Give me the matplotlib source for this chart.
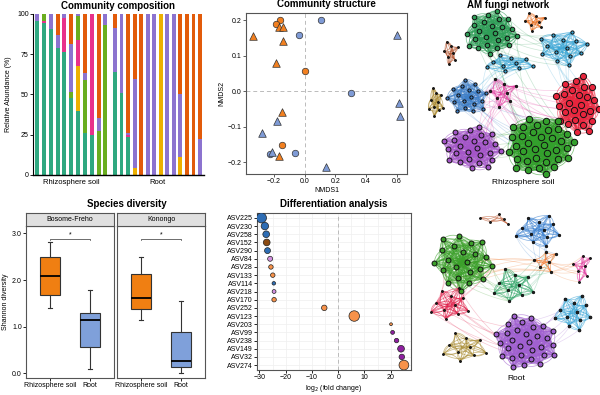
import numpy as np
import matplotlib
matplotlib.use("Agg")
import matplotlib.pyplot as plt
from matplotlib.collections import LineCollection

plt.rcParams['font.family'] = ['Liberation Sans', 'DejaVu Sans']
plt.rcParams['axes.unicode_minus'] = True

W, H = 600, 395

# ---------------- data ----------------
# community composition, stacked bottom -> top
taxa = ['t1', 't2', 't3', 't4', 't5', 't6']
taxa_colors = ['#2FA880', '#EDB000', '#E8318A', '#6AAE1F', '#8C73CF', '#E25B0A']
rhizo_comp = {
    't1': [95.4, 94.4, 90.9, 78.9, 76.4, 47.6, 40.0, 26.1, 24.6, 0, 0],
    't2': [0, 0, 0, 0, 0, 0, 27.5, 0, 0, 0, 0],
    't3': [0, 1.4, 0, 0, 21.1, 0, 16.5, 0, 75.4, 0, 0],
    't4': [0, 4.2, 0, 0, 0, 3.7, 14.5, 33.1, 0, 27.1, 93.0],
    't5': [4.6, 0, 9.1, 8.3, 2.5, 30.1, 1.5, 4.2, 0, 8.3, 7.0],
    't6': [0, 0, 0, 12.8, 0, 18.6, 0, 36.6, 0, 64.6, 0],
}
root_comp = {
    't1': [63.8, 50.9, 23.6, 0, 0, 0, 0, 0, 0, 0, 0, 0, 0, 0],
    't2': [0, 0, 0, 4.3, 0, 0, 0, 100, 0, 0, 11.4, 0, 0, 0],
    't3': [0, 0, 1.5, 0, 0, 0, 0, 0, 0, 0, 0, 0, 0, 0],
    't4': [0, 0, 0, 0, 0, 0, 0, 0, 0, 0, 0, 0, 0, 0],
    't5': [27.5, 49.1, 1.0, 55.5, 0, 100, 100, 0, 100, 100, 39.1, 0, 0, 22.4],
    't6': [8.7, 0, 73.9, 40.2, 100, 0, 0, 0, 0, 0, 49.5, 100, 100, 77.6],
}

# NMDS
rh_circ_x = [-0.161, -0.187, 0.0, -0.148]
rh_circ_y = [0.200, 0.188, 0.057, -0.150]
rh_tri_x = [-0.339, -0.143, -0.187, -0.150, -0.167, -0.170, -0.140]
rh_tri_y = [0.154, 0.140, 0.078, -0.058, -0.181, 0.180, 0.182]
rt_circ_x = [0.104, -0.035, 0.304, -0.063, -0.226]
rt_circ_y = [0.200, 0.158, -0.006, -0.174, -0.178]
rt_tri_x = [0.600, 0.617, 0.622, -0.183, -0.276, -0.215, 0.139]
rt_tri_y = [0.158, -0.032, -0.070, -0.084, -0.118, -0.172, -0.212]

# Shannon diversity boxplot stats (whislo, q1, med, q3, whishi)
sites = ['Bosome-Freho', 'Konongo']
compartments = ['Rhizosphere soil', 'Root']
shannon = {
    'Bosome-Freho': [[1.41, 1.69, 2.08, 2.49, 2.81], [0.09, 0.56, 1.14, 1.30, 1.79]],
    'Konongo': [[1.14, 1.38, 1.61, 2.12, 2.49], [0.01, 0.14, 0.26, 0.89, 1.56]],
}

# differential abundance
asv = ['ASV225', 'ASV230', 'ASV258', 'ASV152', 'ASV290', 'ASV84', 'ASV28', 'ASV133',
       'ASV114', 'ASV218', 'ASV170', 'ASV252', 'ASV123', 'ASV203', 'ASV99', 'ASV238',
       'ASV149', 'ASV32', 'ASV274']
lfc = [-29.2, -27.9, -27.4, -27.2, -26.9, -25.9, -25.6, -24.9, -24.5, -24.4, -24.4,
       -5.3, 6.1, 20.1, 20.7, 22.2, 23.9, 24.2, 25.0]
abund = [20, 11, 9, 9, 7, 5, 4, 4, 2.5, 3, 4, 6, 22, 1.6, 3, 4, 9, 6, 19]
asv_group = ['g1', 'g1', 'g1', 'g2', 'g1', 'g3', 'g4', 'g4', 'g1', 'g3', 'g4', 'g4', 'g4',
             'g4', 'g5', 'g5', 'g5', 'g5', 'g4']
group_colors = {'g1': '#2E6DB4', 'g2': '#8B4A12', 'g3': '#D291E0', 'g4': '#F7924A',
                'g5': '#8E1FA0'}

# network modules: colour, centre (px), radii (px), node count, node size
net_rhizo = [
    ('#2E9E57', (491, 33), (28, 23), 24, 6),
    ('#E86A1A', (535, 22), (14, 10), 8, 1),
    ('#B0502A', (451, 53), (10, 13), 8, 1),
    ('#3AA6D6', (562, 48), (26, 20), 14, 3),
    ('#3AA6D6', (510, 63), (26, 10), 10, 3),
    ('#A8862A', (436, 102), (8, 18), 10, 1),
    ('#3E7FC8', (468, 97), (21, 19), 18, 3),
    ('#E0309A', (503, 93), (18, 16), 8, 1.5),
    ('#E8243C', (578, 105), (23, 31), 26, 11),
    ('#33A02C', (540, 145), (35, 31), 36, 12),
    ('#A455C8', (473, 148), (31, 23), 26, 7),
]
links_rhizo = [(0, 3), (0, 4), (4, 6), (6, 9), (7, 9), (8, 9), (9, 10), (7, 6), (3, 8),
               (0, 9), (7, 10), (7, 8)]
net_root = [
    ('#C0603A', (498, 219), (19, 7), 5, 1),
    ('#3A80D0', (538, 230), (27, 17), 12, 1.5),
    ('#3BA02A', (462, 262), (31, 31), 22, 7),
    ('#26A060', (514, 285), (22, 21), 10, 1.5),
    ('#F07020', (545, 262), (13, 16), 6, 1.5),
    ('#E0309A', (582, 266), (11, 17), 7, 1),
    ('#E0204A', (450, 305), (22, 19), 11, 1),
    ('#40A8D8', (573, 312), (22, 19), 12, 2),
    ('#A88A30', (465, 347), (24, 18), 10, 1),
    ('#A060D0', (525, 342), (33, 28), 30, 7),
]
links_root = [(2, 3), (3, 4), (4, 5), (6, 2), (6, 9), (1, 4), (9, 7), (4, 2)]


def rect(x0, y0, x1, y1):
    return [x0 / W, 1 - y1 / H, (x1 - x0) / W, (y1 - y0) / H]


fig = plt.figure(figsize=(6, 3.95), dpi=100)
fs = 5

# ---------------- community composition ----------------
ax_a = fig.add_axes(rect(33, 14, 109.5, 175))
ax_b = fig.add_axes(rect(111, 14, 204, 175))
for ax, comp, lab in [(ax_a, rhizo_comp, 'Rhizosphere soil'), (ax_b, root_comp, 'Root')]:
    n = len(comp['t1'])
    x = np.arange(n)
    bottom = np.zeros(n)
    for t, c in zip(taxa, taxa_colors):
        v = np.array(comp[t])
        ax.bar(x, v, bottom=bottom, color=c, width=0.6, linewidth=0)
        bottom += v
    ax.set_xlim(-0.6, n - 0.4)
    ax.set_ylim(0, 100)
    ax.set_xticks([])
    ax.set_xlabel(lab, fontsize=fs + 0.5, labelpad=3)
    for s in ['top', 'right']:
        ax.spines[s].set_visible(False)
    ax.spines['bottom'].set_linewidth(1)
ax_a.set_yticks([0, 25, 50, 75, 100])
ax_a.tick_params(axis='y', labelsize=fs, length=2, width=0.6, pad=1)
ax_a.set_ylabel('Relative Abundance (%)', fontsize=fs, labelpad=4)
ax_b.spines['left'].set_visible(False)
ax_b.set_yticks([])
fig.text(118 / W, 1 - 6 / H, 'Community composition', ha='center', va='center',
         fontsize=7, fontweight='bold')

# ---------------- NMDS ----------------
ax_n = fig.add_axes(rect(246, 13, 407, 174))
ax_n.axhline(0, color='#BBBBBB', ls=(0, (4, 3)), lw=0.7, zorder=0)
ax_n.axvline(0, color='#BBBBBB', ls=(0, (4, 3)), lw=0.7, zorder=0)
kw = dict(edgecolor='#333333', linewidths=0.5, zorder=3)
ax_n.scatter(rh_circ_x, rh_circ_y, s=22, marker='o', color='#F28020', **kw)
ax_n.scatter(rh_tri_x, rh_tri_y, s=30, marker='^', color='#F28020', **kw)
ax_n.scatter(rt_circ_x, rt_circ_y, s=22, marker='o', color='#7F9BD6', **kw)
ax_n.scatter(rt_tri_x, rt_tri_y, s=30, marker='^', color='#7F9BD6', **kw)
ax_n.set_xlim(-0.383, 0.667)
ax_n.set_ylim(-0.233, 0.22)
ax_n.set_xticks([-0.2, 0.0, 0.2, 0.4, 0.6])
ax_n.set_yticks([-0.2, -0.1, 0.0, 0.1, 0.2])
ax_n.tick_params(labelsize=fs, length=2, width=0.6, pad=1, color='#444444')
for s in ax_n.spines.values():
    s.set_color('#555555')
    s.set_linewidth(0.8)
ax_n.set_xlabel('NMDS1', fontsize=fs, labelpad=1)
ax_n.set_ylabel('NMDS2', fontsize=fs, labelpad=2)
ax_n.set_title('Community structure', fontsize=7, fontweight='bold', pad=4)

# ---------------- Shannon boxplots ----------------
box_cols = ['#F07F12', '#7FA0DA']
facets = [(26, 114), (117, 205)]
for k, (site, (x0, x1)) in enumerate(zip(sites, facets)):
    ax = fig.add_axes(rect(x0, 226, x1, 378))
    st = fig.add_axes(rect(x0, 213, x1, 226))
    st.set_facecolor('#E0E0E0')
    st.set_xticks([])
    st.set_yticks([])
    for s in st.spines.values():
        s.set_color('#555555')
        s.set_linewidth(0.8)
    st.text(0.5, 0.5, site, ha='center', va='center', fontsize=fs, transform=st.transAxes)
    stats = []
    for j, comp in enumerate(compartments):
        lo, q1, med, q3, hi = shannon[site][j]
        stats.append(dict(whislo=lo, q1=q1, med=med, q3=q3, whishi=hi, fliers=[], label=comp))
    bp = ax.bxp(stats, positions=[1, 2], widths=0.5, patch_artist=True, showfliers=False,
                capwidths=0.1,
                boxprops=dict(edgecolor='#333333', linewidth=0.8),
                whiskerprops=dict(color='#333333', linewidth=0.8),
                capprops=dict(color='#333333', linewidth=0.8),
                medianprops=dict(color='black', linewidth=1.3))
    for patch, c in zip(bp['boxes'], box_cols):
        patch.set_facecolor(c)
    ax.plot([1, 1, 2, 2], [2.86, 2.89, 2.89, 2.86], color='#333333', lw=0.5)
    ax.text(1.5, 2.9, '*', ha='center', va='bottom', fontsize=5)
    ax.set_xlim(0.4, 2.6)
    ax.set_ylim(-0.1, 3.16)
    ax.tick_params(labelsize=fs, length=2, width=0.6, pad=1)
    for s in ax.spines.values():
        s.set_color('#555555')
        s.set_linewidth(0.8)
    if k == 0:
        ax.set_yticks([0, 1, 2, 3])
        ax.set_yticklabels(['0.0', '1.0', '2.0', '3.0'])
        ax.set_ylabel('Shannon diversity', fontsize=fs, labelpad=2)
    else:
        ax.set_yticks([])
fig.text(127 / W, 1 - 204 / H, 'Species diversity', ha='center', va='center',
         fontsize=7, fontweight='bold')

# ---------------- differential abundance ----------------
ax_d = fig.add_axes(rect(257, 213, 411, 370))
yy = np.arange(len(asv))
ax_d.axvline(0, color='#BBBBBB', ls=(0, (4, 3)), lw=0.7, zorder=1)
ax_d.scatter(lfc, yy, s=np.array(abund) * 2.6,
             c=[group_colors[g] for g in asv_group], edgecolor='#222222',
             linewidths=0.5, zorder=3)
ax_d.set_yticks(yy)
ax_d.set_yticklabels(asv)
ax_d.set_ylim(len(asv) - 0.4, -0.6)
ax_d.set_xlim(-30.9, 27.7)
ax_d.set_xticks([-30, -20, -10, 0, 10, 20])
ax_d.set_xticks([-25, -15, -5, 5, 15, 25], minor=True)
ax_d.grid(True, which='both', color='#EFEFEF', lw=0.5, zorder=0)
ax_d.set_axisbelow(True)
ax_d.tick_params(labelsize=fs, length=2, width=0.6, pad=1)
ax_d.tick_params(which='minor', length=0)
for s in ax_d.spines.values():
    s.set_color('#555555')
    s.set_linewidth(0.8)
ax_d.set_xlabel('log$_2$ (fold change)', fontsize=fs, labelpad=1)
ax_d.set_title('Differentiation analysis', fontsize=7, fontweight='bold', pad=4)

# ---------------- networks ----------------
ax_w = fig.add_axes(rect(415, 0, 600, 395))
ax_w.set_xlim(415, 600)
ax_w.set_ylim(395, 0)
ax_w.axis('off')
golden = np.pi * (3 - np.sqrt(5))


def module_nodes(centre, radii, n):
    i = np.arange(n)
    r = np.sqrt((i + 0.5) / n)
    th = i * golden
    return np.column_stack([centre[0] + radii[0] * r * np.cos(th),
                            centre[1] + radii[1] * r * np.sin(th)])


def arc(p, q, bend):
    t = np.linspace(0, 1, 12)[:, None]
    mid = (p + q) / 2
    d = q - p
    ctrl = mid + bend * np.array([-d[1], d[0]])
    return (1 - t) ** 2 * p + 2 * (1 - t) * t * ctrl + t ** 2 * q


def draw_network(mods, links):
    nodes = [module_nodes(c, r, n) for _, c, r, n, _ in mods]
    for a, b in links:
        segs = []
        pa, pb = nodes[a], nodes[b]
        for m in range(8):
            segs.append(arc(pa[(3 * m) % len(pa)], pb[(5 * m + 1) % len(pb)], 0.12))
        ax_w.add_collection(LineCollection(segs, colors=mods[a][0], alpha=0.25, lw=0.5))
    for (col, c, r, n, sz), pts in zip(mods, nodes):
        segs = []
        for i in range(n):
            for j in range(i + 1, n):
                segs.append(arc(pts[i], pts[j], 0.27 if (i + j) % 2 else -0.27))
        ax_w.add_collection(LineCollection(segs, colors=col, alpha=0.6, lw=0.55))
    for (col, c, r, n, sz), pts in zip(mods, nodes):
        face = col if sz > 2 else '#222222'
        ax_w.scatter(pts[:, 0], pts[:, 1], s=sz * 1.8, color=face, edgecolor='#111111',
                     linewidths=0.7, zorder=4)


draw_network(net_rhizo, links_rhizo)
draw_network(net_root, links_root)
ax_w.text(523, 183, 'Rhizosphere soil', ha='center', va='center', fontsize=6)
ax_w.text(516, 378, 'Root', ha='center', va='center', fontsize=6)
ax_w.text(508, 5, 'AM fungi network', ha='center', va='center', fontsize=7,
          fontweight='bold')

fig.savefig('out.png', dpi=100)
